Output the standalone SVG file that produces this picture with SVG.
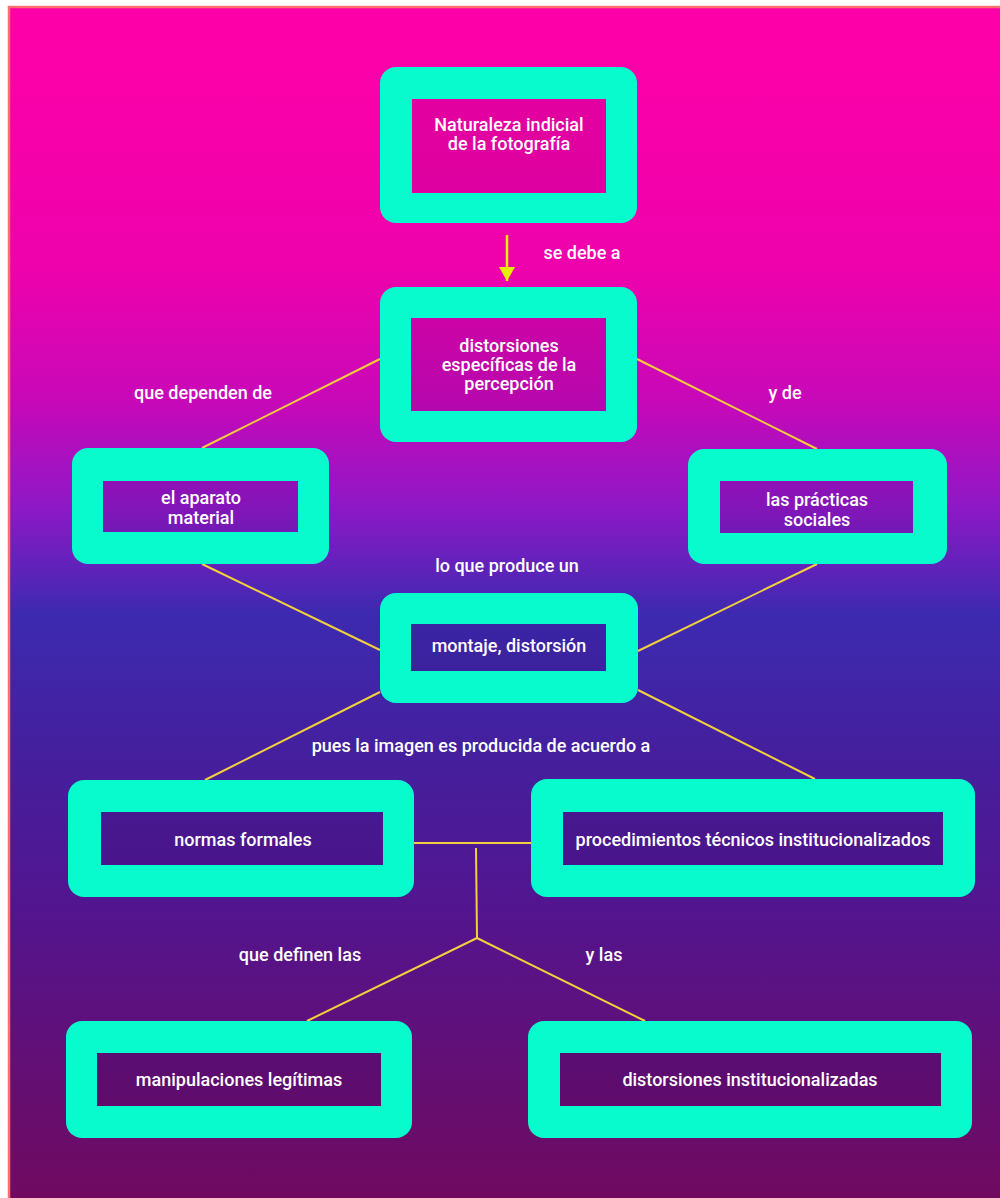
<svg xmlns="http://www.w3.org/2000/svg" width="1000" height="1198" viewBox="0 0 1000 1198">
  <defs>
    <linearGradient id="bg" gradientUnits="userSpaceOnUse" x1="0" y1="7" x2="0" y2="1198">
      <stop offset="0" stop-color="#ff00a8"/>
      <stop offset="0.22" stop-color="#ee02ac"/>
      <stop offset="0.33" stop-color="#c808b8"/>
      <stop offset="0.42" stop-color="#8e18c6"/>
      <stop offset="0.51" stop-color="#3c2ab0"/>
      <stop offset="0.62" stop-color="#44209e"/>
      <stop offset="0.75" stop-color="#521590"/>
      <stop offset="1" stop-color="#700a60"/>
    </linearGradient>
    <marker id="arrowhead" viewBox="0 0 14 16" refX="14" refY="8" markerWidth="14" markerHeight="16" markerUnits="userSpaceOnUse" orient="auto">
      <path d="M0,0 L14,8 L0,16 Z" fill="#e4f000"/>
    </marker>
  </defs>
  <style>
    .frame { fill: #08fbcc; }
    .inner { fill: url(#bg); }
    .tint { fill: #2a0050; fill-opacity: 0.1; }
    .label { font-family: Roboto, "Liberation Sans", sans-serif; font-weight: 500; font-size: 18px; fill: #ffffff; text-anchor: middle; }
    .link { stroke: #f2cf3c; stroke-width: 2; fill: none; }
    .arrow { stroke: #e4f000; stroke-width: 2.5; fill: none; }
  </style>

  <!-- page background -->
  <rect x="0" y="0" width="1000" height="1198" fill="#ffffff"/>
  <rect x="9" y="7" width="1000" height="1200" fill="url(#bg)" stroke="#ff6f6f" stroke-width="2.5"/>

  <!-- connectors -->
  <g id="connectors">
    <line class="arrow" x1="507" y1="235" x2="507" y2="281" marker-end="url(#arrowhead)"/>
    <line class="link" x1="380" y1="359" x2="202" y2="448"/>
    <line class="link" x1="637" y1="359" x2="817" y2="449"/>
    <line class="link" x1="202" y1="564" x2="380" y2="650"/>
    <line class="link" x1="817" y1="564" x2="638" y2="651"/>
    <line class="link" x1="380" y1="692" x2="205" y2="780"/>
    <line class="link" x1="638" y1="690" x2="815" y2="779"/>
    <line class="link" x1="414" y1="843" x2="531" y2="843"/>
    <line class="link" x1="476" y1="848" x2="477" y2="938"/>
    <line class="link" x1="477" y1="938" x2="307" y2="1021"/>
    <line class="link" x1="477" y1="938" x2="645" y2="1021"/>
  </g>

  <!-- connector labels -->
  <g id="labels">
    <text class="label" x="582" y="259">se debe a</text>
    <text class="label" x="203" y="399">que dependen de</text>
    <text class="label" x="785" y="399">y de</text>
    <text class="label" x="507" y="572">lo que produce un</text>
    <text class="label" x="481" y="752">pues la imagen es producida de acuerdo a</text>
    <text class="label" x="300" y="961">que definen las</text>
    <text class="label" x="604" y="961">y las</text>
  </g>

  <g id="node-naturaleza">
    <rect class="frame" x="380" y="67" width="257" height="156" rx="16"/>
    <rect class="inner" x="412" y="99" width="194" height="94"/>
    <rect class="tint" x="412" y="99" width="194" height="94"/>
    <text class="label" x="509" y="131">Naturaleza indicial</text>
    <text class="label" x="509" y="150">de la fotografía</text>
  </g>

  <g id="node-distorsiones">
    <rect class="frame" x="380" y="287" width="257" height="155" rx="16"/>
    <rect class="inner" x="411" y="318" width="195" height="93"/>
    <rect class="tint" x="411" y="318" width="195" height="93"/>
    <text class="label" x="509" y="352">distorsiones</text>
    <text class="label" x="509" y="371">específicas de la</text>
    <text class="label" x="509" y="390">percepción</text>
  </g>

  <g id="node-aparato">
    <rect class="frame" x="72" y="448" width="257" height="116" rx="16"/>
    <rect class="inner" x="103" y="481" width="195" height="51"/>
    <rect class="tint" x="103" y="481" width="195" height="51"/>
    <text class="label" x="201" y="504">el aparato</text>
    <text class="label" x="201" y="524">material</text>
  </g>

  <g id="node-practicas">
    <rect class="frame" x="688" y="449" width="259" height="115" rx="16"/>
    <rect class="inner" x="720" y="481" width="193" height="52"/>
    <rect class="tint" x="720" y="481" width="193" height="52"/>
    <text class="label" x="817" y="506">las prácticas</text>
    <text class="label" x="817" y="526">sociales</text>
  </g>

  <g id="node-montaje">
    <rect class="frame" x="380" y="593" width="258" height="110" rx="16"/>
    <rect class="inner" x="411" y="624" width="195" height="47"/>
    <rect class="tint" x="411" y="624" width="195" height="47"/>
    <text class="label" x="509" y="652">montaje, distorsión</text>
  </g>

  <g id="node-normas">
    <rect class="frame" x="68" y="780" width="346" height="117" rx="16"/>
    <rect class="inner" x="101" y="812" width="282" height="53"/>
    <rect class="tint" x="101" y="812" width="282" height="53"/>
    <text class="label" x="243" y="846">normas formales</text>
  </g>

  <g id="node-procedimientos">
    <rect class="frame" x="531" y="779" width="444" height="118" rx="16"/>
    <rect class="inner" x="563" y="812" width="380" height="53"/>
    <rect class="tint" x="563" y="812" width="380" height="53"/>
    <text class="label" x="753" y="846">procedimientos técnicos institucionalizados</text>
  </g>

  <g id="node-manipulaciones">
    <rect class="frame" x="66" y="1021" width="346" height="117" rx="16"/>
    <rect class="inner" x="97" y="1053" width="284" height="53"/>
    <rect class="tint" x="97" y="1053" width="284" height="53"/>
    <text class="label" x="239" y="1086">manipulaciones legítimas</text>
  </g>

  <g id="node-distorsiones-inst">
    <rect class="frame" x="528" y="1021" width="444" height="117" rx="16"/>
    <rect class="inner" x="560" y="1053" width="381" height="53"/>
    <rect class="tint" x="560" y="1053" width="381" height="53"/>
    <text class="label" x="750" y="1086">distorsiones institucionalizadas</text>
  </g>
</svg>
